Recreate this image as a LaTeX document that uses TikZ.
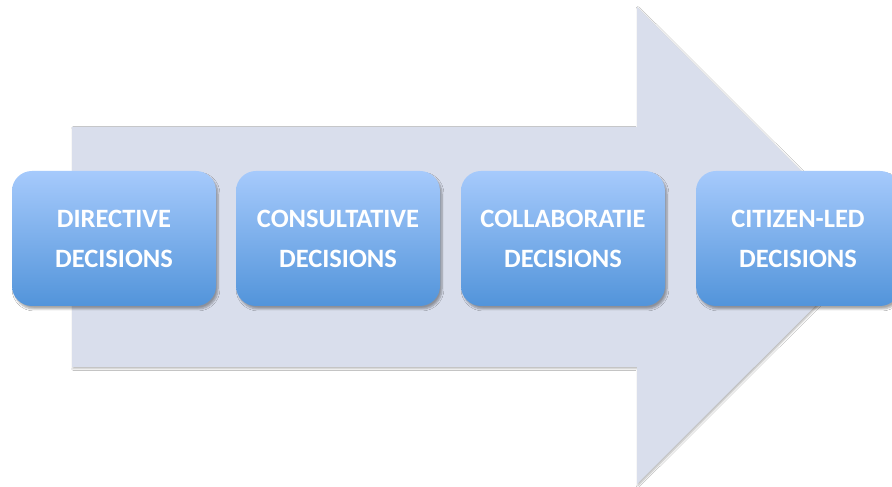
\documentclass[tikz,border=0pt]{standalone}
\usepackage{fontspec}
\setmainfont{Carlito}
\usepackage{tikz}
\usetikzlibrary{shadows.blur}

\definecolor{arrowfill}{HTML}{D9DEEC}
\definecolor{boxtop}{HTML}{A6CAFC}
\definecolor{boxbot}{HTML}{5294DA}

\tikzset{
  stage/.style={rectangle,rounded corners=20pt,minimum width=204pt,minimum height=135pt,
    top color=boxtop,bottom color=boxbot,draw=none,align=center,text=white,
    font=\bfseries\fontsize{26.5}{40}\selectfont,
    blur shadow={shadow xshift=2pt,shadow yshift=-3pt,shadow blur steps=6,shadow opacity=35}},
  bigarrow/.style={fill=arrowfill,draw=none,
    blur shadow={shadow xshift=1pt,shadow yshift=-1.5pt,shadow blur steps=4,shadow opacity=30}}
}

\begin{document}
\begin{tikzpicture}[x=1pt,y=1pt]
  \clip (0,0) rectangle (892,487);
  \fill[white] (0,0) rectangle (892,487);
  % the wide arrow behind the stages
  \path[bigarrow] (72,360) -- (637,360) -- (637,480) -- (876,241.5)
     -- (637,3) -- (637,120) -- (72,120) -- cycle;
  % the four kinds of decision
  \node[stage] (directive) at (114,248.5) {DIRECTIVE\\DECISIONS};
  \node[stage] (consult)   at (338,248.5) {CONSULTATIVE\\DECISIONS};
  \node[stage] (collab)    at (563,248.5) {COLLABORATIE\\DECISIONS};
  \node[stage] (citizen)   at (798,248.5) {CITIZEN-LED\\DECISIONS};
\end{tikzpicture}
\end{document}
